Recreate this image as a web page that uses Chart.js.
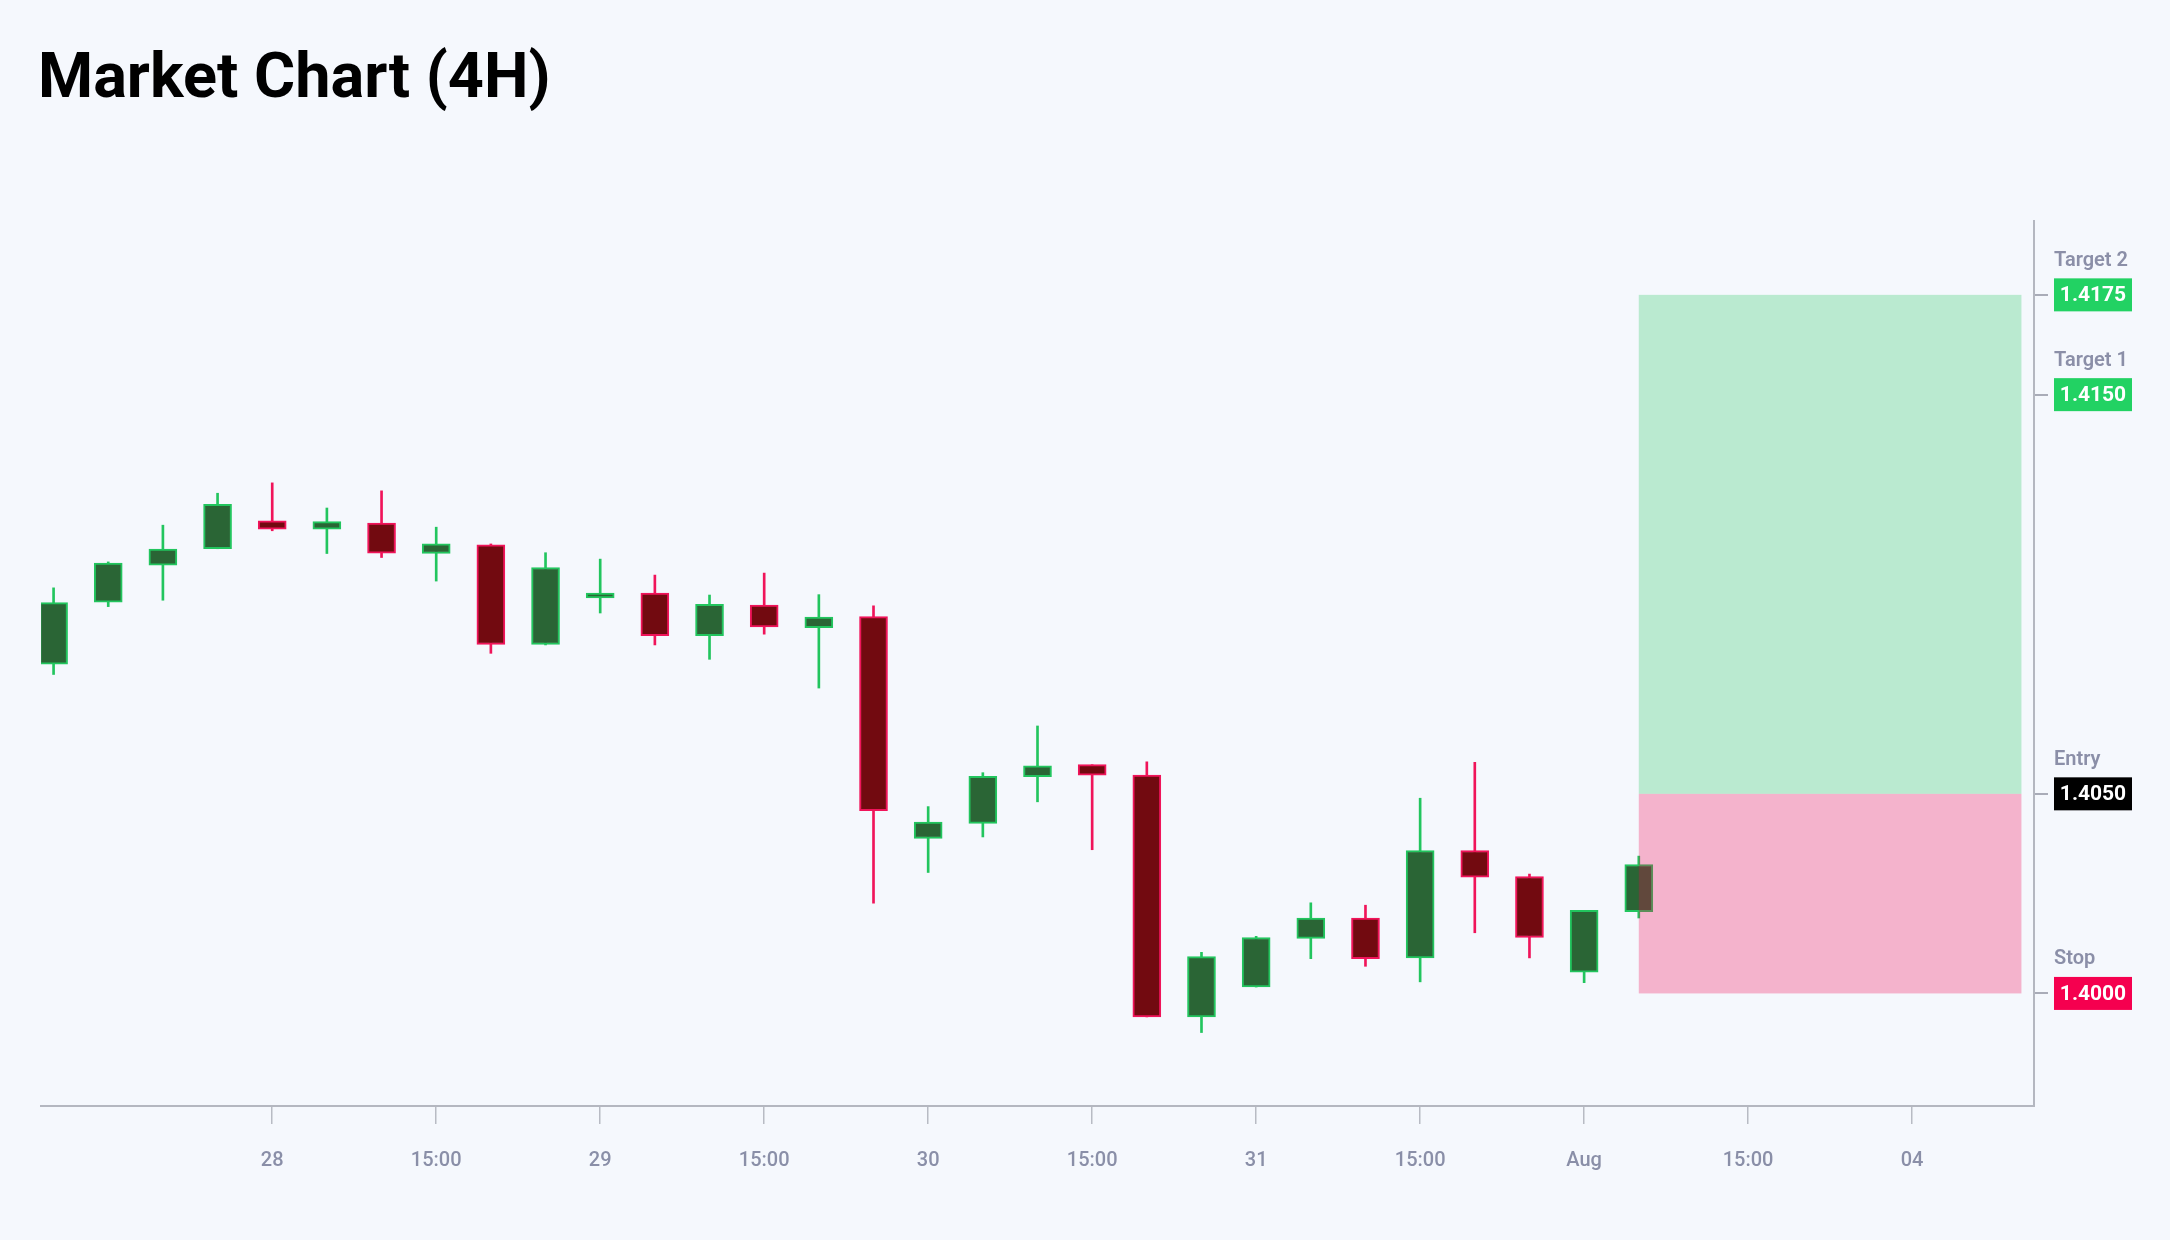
<!DOCTYPE html>
<html>
<head>
<meta charset="utf-8">
<script src="https://cdn.jsdelivr.net/npm/chart.js@4.4.1/dist/chart.umd.min.js"></script>
<style>
  html, body { margin: 0; padding: 0; background: #f5f8fd; }
  #wrap { position: relative; width: 2170px; height: 1240px; }
  h1 { position: absolute; left: 38px; top: 44px; margin: 0; font: bold 63px Roboto, sans-serif; line-height: 1; color: #000; }
  canvas { position: absolute; left: 0; top: 0; }
</style>
</head>
<body>
<div id="wrap">
  <h1>Market Chart (4H)</h1>
  <canvas id="chart" width="2170" height="1240"></canvas>
</div>
<script>
// 4H candles
const opens  = [1.40825, 1.40980, 1.41073, 1.41114, 1.41184, 1.41163, 1.41178, 1.41102, 1.41124, 1.40874,
                1.40991, 1.41003, 1.40896, 1.40973, 1.40916, 1.40944, 1.40388, 1.40426, 1.40543, 1.40573,
                1.40547, 1.39941, 1.40016, 1.40138, 1.40189, 1.40089, 1.40358, 1.40293, 1.40053, 1.40205];
const highs  = [1.41016, 1.41081, 1.41173, 1.41253, 1.41279, 1.41216, 1.41259, 1.41168, 1.41126, 1.41104,
                1.41088, 1.41048, 1.40998, 1.41053, 1.40999, 1.40971, 1.40468, 1.40553, 1.40670, 1.40573,
                1.40580, 1.40103, 1.40143, 1.40227, 1.40221, 1.40489, 1.40579, 1.40299, 1.40208, 1.40344];
const lows   = [1.40799, 1.40969, 1.40985, 1.41114, 1.41159, 1.41102, 1.41092, 1.41033, 1.40852, 1.40873,
                1.40953, 1.40873, 1.40837, 1.40900, 1.40765, 1.40226, 1.40303, 1.40392, 1.40480, 1.40360,
                1.39941, 1.39902, 1.40016, 1.40087, 1.40068, 1.40029, 1.40152, 1.40089, 1.40027, 1.40189];
const closes = [1.40979, 1.41078, 1.41113, 1.41225, 1.41163, 1.41182, 1.41103, 1.41126, 1.40874, 1.41067,
                1.41003, 1.40896, 1.40975, 1.40918, 1.40943, 1.40458, 1.40429, 1.40544, 1.40570, 1.40547,
                1.39941, 1.40092, 1.40140, 1.40189, 1.40087, 1.40358, 1.40291, 1.40140, 1.40208, 1.40323];

// time axis: candle index of each tick and its label
const tickCandles = [4, 7, 10, 13, 16, 19, 22, 25, 28, 31, 34];
const tickLabels  = ['28', '15:00', '29', '15:00', '30', '15:00', '31', '15:00', 'Aug', '15:00', '04'];

// trade setup
const levelNames  = ['Target 2', 'Target 1', 'Entry', 'Stop'];
const levelValues = [1.4175, 1.4150, 1.4050, 1.4000];
const levelColors = ['#22d263', '#22d263', '#000000', '#f5004f'];
const setupFrom = 29, setupTo = 36;

const GREEN = '#22c55e', GREEN_BODY = '#2a6535';
const RED = '#f0145a', RED_BODY = '#720a10';
const up = closes.map((c, i) => c >= opens[i]);

const bodies = opens.map((o, i) => ({ x: i, y: [o, closes[i]] }));
const wicks = lows.map((l, i) => ({ x: i, y: [l, highs[i]] }));

const setupPlugin = {
  id: 'setup',
  afterDatasetsDraw(chart) {
    const { ctx, scales: { x, y } } = chart;
    const x0 = x.getPixelForValue(setupFrom), x1 = x.getPixelForValue(setupTo);
    const yT = y.getPixelForValue(levelValues[0]);
    const yE = y.getPixelForValue(levelValues[2]);
    const yS = y.getPixelForValue(levelValues[3]);
    ctx.save();
    ctx.fillStyle = 'rgba(34,197,94,0.28)';
    ctx.fillRect(x0, yT, x1 - x0, yE - yT);
    ctx.fillStyle = 'rgba(240,0,80,0.28)';
    ctx.fillRect(x0, yE, x1 - x0, yS - yE);
    ctx.restore();
  },
  afterDraw(chart) {
    const { ctx, chartArea, scales: { y } } = chart;
    const bx = chartArea.right + 20;
    ctx.save();
    levelValues.forEach((v, i) => {
      const py = y.getPixelForValue(v);
      ctx.fillStyle = levelColors[i];
      ctx.fillRect(bx, py - 16.5, 78, 33);
      ctx.fillStyle = '#ffffff';
      ctx.font = 'bold 21px Roboto';
      ctx.textAlign = 'center';
      ctx.textBaseline = 'middle';
      ctx.fillText(v.toFixed(4), bx + 39, py + 1);
      ctx.fillStyle = '#8b8fa8';
      ctx.font = '600 20px Roboto';
      ctx.textAlign = 'left';
      ctx.fillText(levelNames[i], bx, py - 34);
    });
    ctx.restore();
  }
};

new Chart(document.getElementById('chart'), {
  type: 'bar',
  data: {
    datasets: [
      {
        data: bodies,
        backgroundColor: up.map(u => u ? GREEN_BODY : RED_BODY),
        borderColor: up.map(u => u ? GREEN : RED),
        borderWidth: 2,
        borderSkipped: false,
        barThickness: 28,
        grouped: false
      },
      {
        data: wicks,
        backgroundColor: up.map(u => u ? GREEN : RED),
        borderWidth: 0,
        barThickness: 2,
        grouped: false
      }
    ]
  },
  options: {
    responsive: false,
    animation: false,
    layout: { padding: { left: 41, top: 221, right: 0, bottom: 0 } },
    plugins: { legend: { display: false }, tooltip: { enabled: false } },
    scales: {
      x: {
        type: 'linear',
        min: -0.23,
        max: 36.23,
        offset: false,
        afterBuildTicks: s => { s.ticks = tickCandles.map(v => ({ value: v })); },
        afterFit: s => { s.height = 134; },
        ticks: {
          autoSkip: false,
          maxRotation: 0,
          padding: 25,
          color: '#8a8fa8',
          font: { family: 'Roboto', size: 20, weight: '500' },
          callback: v => tickLabels[tickCandles.indexOf(v)]
        },
        grid: { offset: false, drawOnChartArea: false, drawTicks: true, tickLength: 18, color: '#b8bbc4', lineWidth: 1.5 },
        border: { color: '#b4b7c0', width: 2 }
      },
      y: {
        position: 'right',
        min: 1.39718,
        max: 1.41935,
        afterBuildTicks: s => { s.ticks = levelValues.map(v => ({ value: v })); },
        afterFit: s => { s.width = 136; },
        ticks: { display: false },
        grid: { drawOnChartArea: false, drawTicks: true, tickLength: 14, color: '#a9acb8', lineWidth: 2 },
        border: { color: '#b4b7c0', width: 2 }
      }
    }
  },
  plugins: [setupPlugin]
});
</script>
</body>
</html>
